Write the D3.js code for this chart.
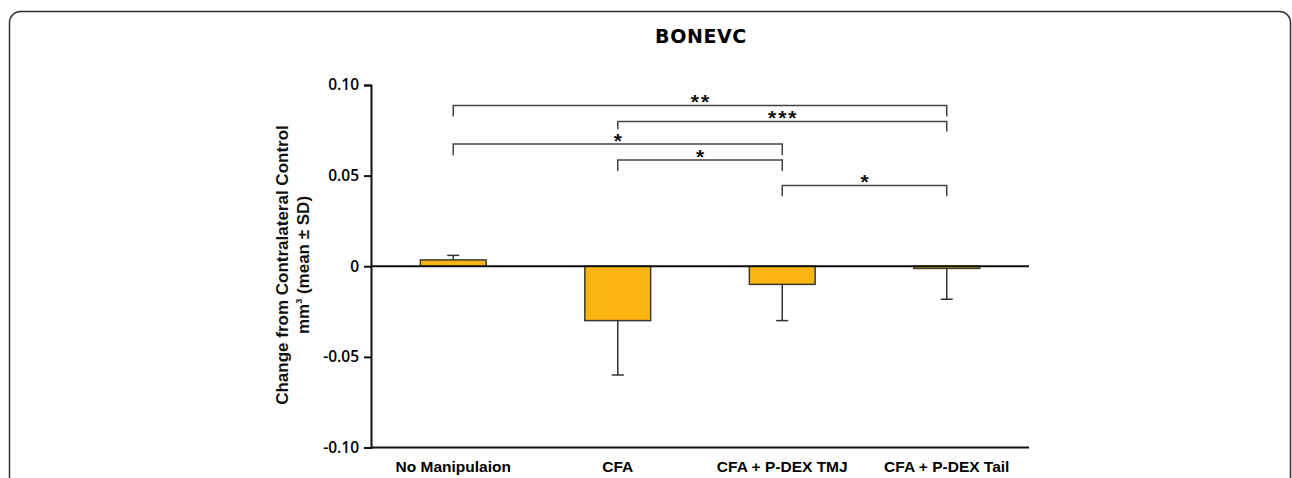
<!DOCTYPE html>
<html><head><meta charset="utf-8">
<script src="https://cdn.jsdelivr.net/npm/d3@7"></script>
<style>
html,body{margin:0;padding:0;background:#fff;}
svg{display:block;}
</style></head>
<body>
<script>
const title = "BONEVC";
const categories = ["No Manipulaion", "CFA", "CFA + P-DEX TMJ", "CFA + P-DEX Tail"];
const means = [0.0035, -0.030, -0.010, -0.0012];
const sds = [0.0025, 0.030, 0.020, 0.017];
const yTicks = [0.10, 0.05, 0, -0.05, -0.10];
const yTickLabels = ["0.10", "0.05", "0", "-0.05", "-0.10"];
// significance brackets: from, to, line level, left leg end, right leg end, label
const bracketFrom = [0, 1, 0, 1, 2];
const bracketTo = [3, 3, 2, 2, 3];
const bracketLevel = [0.0887, 0.0799, 0.0674, 0.0586, 0.0446];
const bracketLegL = [0.0826, 0.0756, 0.0613, 0.0525, 0.0386];
const bracketLegR = [0.0826, 0.0744, 0.0613, 0.0525, 0.0386];
const bracketLabel = ["**", "***", "*", "*", "*"];

const W = 1292, H = 478;
const svg = d3.select("body").append("svg").attr("width", W).attr("height", H);

// frame
svg.append("rect").attr("x", 9.5).attr("y", 11.5).attr("width", 1281).attr("height", 520)
  .attr("rx", 11).attr("fill", "none").attr("stroke", "#333").attr("stroke-width", 1.5);

svg.append("text").attr("x", 701).attr("y", 42.5).attr("text-anchor", "middle")
  .attr("font-family", "DejaVu Sans").attr("font-weight", "bold").attr("font-size", 19)
  .attr("letter-spacing", 0.6).attr("fill", "#000").text(title);

const x = d3.scaleBand().domain(categories).range([371, 1029]).paddingInner(0.6).paddingOuter(0.3);
const y = d3.scaleLinear().domain([-0.10, 0.10]).range([447.5, 85]);
const xc = i => x(categories[i]) + x.bandwidth() / 2;

// y axis
const yAxis = d3.axisLeft(y).tickValues(yTicks).tickFormat((d, i) => yTickLabels[i]).tickSizeOuter(0).tickSize(7).tickPadding(5);
const gy = svg.append("g").attr("transform", "translate(371,0)").call(yAxis);
gy.select(".domain").attr("stroke", "#111").attr("stroke-width", 2);
gy.selectAll(".tick line").attr("stroke", "#111").attr("stroke-width", 2);
gy.selectAll(".tick text").attr("font-family", "'Open Sans'").attr("font-weight", 600)
  .attr("font-size", 15.5).attr("fill", "#000");

// x axis at bottom
const xAxis = d3.axisBottom(x).tickSize(0).tickPadding(13);
const gx = svg.append("g").attr("transform", `translate(0,${y(-0.10)})`).call(xAxis);
gx.select(".domain").attr("stroke", "#111").attr("stroke-width", 2.2).attr("d", "M371,0H1029");
gx.selectAll(".tick text").attr("font-family", "'Liberation Sans'")
  .attr("font-weight", "bold").attr("font-size", 15.5).attr("fill", "#000");

// y title
const yt = svg.append("text").attr("transform", `translate(288,265) rotate(-90)`)
  .attr("text-anchor", "middle").attr("font-family", "Liberation Sans").attr("font-weight", "bold")
  .attr("font-size", 17).attr("fill", "#111");
yt.append("tspan").attr("x", 0).attr("dy", 0).text("Change from Contralateral Control");
const l2 = yt.append("tspan").attr("x", 0).attr("dy", 21).text("mm");
l2.append("tspan").attr("font-size", 9).attr("dy", -7).text("3");
l2.append("tspan").attr("dy", 7).text(" (mean ± SD)");

// bars
svg.append("g").selectAll("rect").data(means).join("rect")
  .attr("x", (d, i) => x(categories[i]))
  .attr("width", x.bandwidth())
  .attr("y", d => y(Math.max(0, d)))
  .attr("height", d => Math.abs(y(d) - y(0)))
  .attr("fill", "#F9B612").attr("stroke", "#3a3a30").attr("stroke-width", 1.5);

// error bars (one-sided, away from zero)
const eb = svg.append("g").attr("stroke", "#333").attr("stroke-width", 1.5);
means.forEach((m, i) => {
  const end = m >= 0 ? m + sds[i] : m - sds[i];
  eb.append("line").attr("x1", xc(i)).attr("x2", xc(i)).attr("y1", y(m)).attr("y2", y(end));
  eb.append("line").attr("x1", xc(i) - 6).attr("x2", xc(i) + 6).attr("y1", y(end)).attr("y2", y(end));
});

// zero line
svg.append("line").attr("x1", 371).attr("x2", 1029).attr("y1", y(0)).attr("y2", y(0))
  .attr("stroke", "#111").attr("stroke-width", 2.2);

// brackets
const bg = svg.append("g");
bracketFrom.forEach((f, k) => {
  const t = bracketTo[k];
  const x1 = xc(f), x2 = xc(t);
  bg.append("path")
    .attr("d", `M${x1},${y(bracketLegL[k])}V${y(bracketLevel[k])}H${x2}V${y(bracketLegR[k])}`)
    .attr("fill", "none").attr("stroke", "#444").attr("stroke-width", 1.5);
  bg.append("text").attr("x", (x1 + x2) / 2).attr("dx", 1).attr("y", y(bracketLevel[k]) + 3.5)
    .attr("text-anchor", "middle").attr("font-family", "Liberation Sans").attr("font-weight", "bold")
    .attr("font-size", 21).attr("letter-spacing", 2).attr("fill", "#111").text(bracketLabel[k]);
});
</script>
</body></html>
